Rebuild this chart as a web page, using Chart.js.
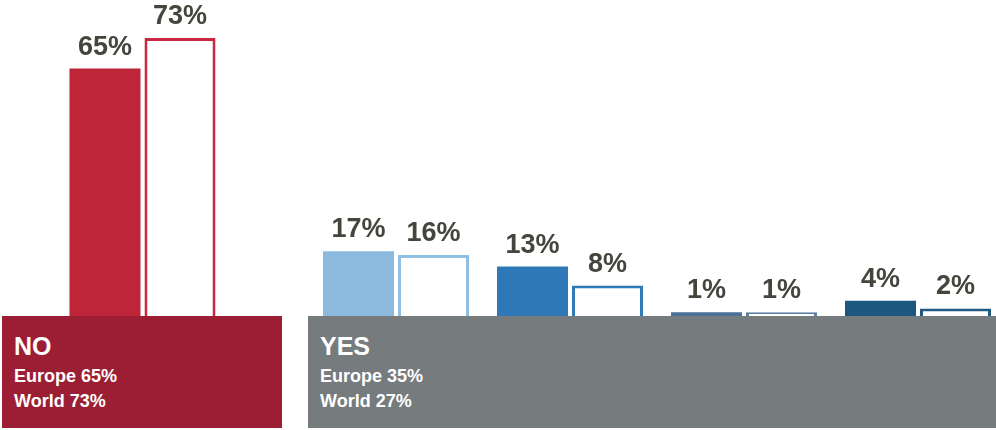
<!DOCTYPE html>
<html>
<head>
<meta charset="utf-8">
<script src="https://cdn.jsdelivr.net/npm/chart.js@4/dist/chart.umd.min.js"></script>
<style>
  html, body { margin: 0; padding: 0; background: #fff; overflow: hidden; }
  body { width: 996px; height: 430px; position: relative; font-family: "Liberation Sans", Arial, sans-serif; }
  canvas { position: absolute; top: 0; }
  #noChart { left: 0; }
  #yesChart { left: 309px; }
  .panel { position: absolute; top: 316px; height: 112px; color: #fff; font-weight: bold; z-index: 2; }
  .panel div { position: absolute; left: 12px; white-space: nowrap; line-height: 1; }
  .panel .big { top: 18px; font-size: 25px; }
  .panel .l1 { top: 51px; font-size: 18px; }
  .panel .l2 { top: 76px; font-size: 18px; }
  #noPanel { left: 2px; width: 280px; background: #9c1e34; }
  #yesPanel { left: 308px; width: 688px; background: #767b7e; }
</style>
</head>
<body>
<canvas id="noChart" width="285" height="316"></canvas>
<canvas id="yesChart" width="696" height="316"></canvas>
<div class="panel" id="noPanel">
  <div class="big">NO</div>
  <div class="l1">Europe 65%</div>
  <div class="l2">World 73%</div>
</div>
<div class="panel" id="yesPanel">
  <div class="big">YES</div>
  <div class="l1">Europe 35%</div>
  <div class="l2">World 27%</div>
</div>
<script>
// chart data
const noCategories = ['No'];
const noEurope = [65];
const noWorld = [73];

const yesCategories = ['Yes 1', 'Yes 2', 'Yes 3', 'Yes 4'];
const yesEurope = [17, 13, 1, 4];
const yesWorld = [16, 8, 1, 2];

const noColors = ['#be2539'];
const yesColors = ['#8cbadf', '#2e78b7', '#4c7198', '#1c5780'];
const yesOutline = ['#8fbfe3', '#2f7ab8', '#5a7ea3', '#1f5a84'];

// draws the value above every bar
const valueLabels = {
    id: 'valueLabels',
    afterDatasetsDraw(chart) {
        const ctx = chart.ctx;
        ctx.save();
        ctx.font = 'bold 27px "Liberation Sans", Arial, sans-serif';
        ctx.fillStyle = '#44453d';
        ctx.textAlign = 'center';
        ctx.textBaseline = 'alphabetic';
        chart.data.datasets.forEach((ds, i) => {
            chart.getDatasetMeta(i).data.forEach((bar, j) => {
                ctx.fillText(ds.data[j] + '%', bar.x, bar.y - 14);
            });
        });
        ctx.restore();
    }
};

function makeChart(id, labels, europe, world, fills, outlines, catPct) {
    return new Chart(document.getElementById(id), {
        type: 'bar',
        data: {
            labels: labels,
            datasets: [{
                label: 'Europe',
                data: europe,
                backgroundColor: fills,
                borderWidth: 0
            }, {
                label: 'World',
                data: world,
                backgroundColor: '#ffffff',
                borderColor: outlines,
                borderWidth: 3,
                borderSkipped: 'start'
            }]
        },
        options: {
            responsive: false,
            animation: false,
            events: [],
            layout: { padding: 0 },
            datasets: { bar: { categoryPercentage: catPct, barPercentage: 0.947 } },
            plugins: { legend: { display: false }, tooltip: { enabled: false } },
            scales: {
                x: { display: false },
                y: { display: false, min: 0, max: 83 }
            }
        },
        plugins: [valueLabels]
    });
}

makeChart('noChart', noCategories, noEurope, noWorld, noColors, ['#c9283e'], 150 / 285);
makeChart('yesChart', yesCategories, yesEurope, yesWorld, yesColors, yesOutline, 150 / 174);
</script>
</body>
</html>
